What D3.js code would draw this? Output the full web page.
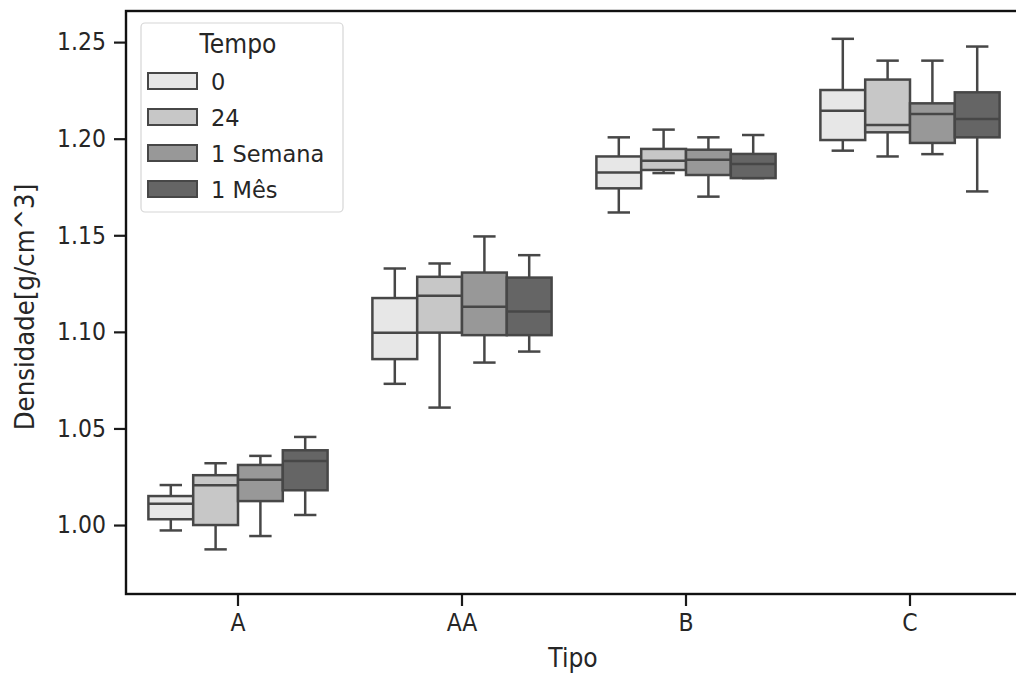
<!DOCTYPE html>
<html>
<head>
<meta charset="utf-8">
<script src="https://cdn.jsdelivr.net/npm/d3@7"></script>
<style>
  html, body { margin: 0; padding: 0; background: #fff; }
  svg { display: block; font-family: "DejaVu Sans", sans-serif; }
</style>
</head>
<body>
<svg id="chart" width="1016" height="675"></svg>
<script>
// ---- data ----
const categories = ["A", "AA", "B", "C"];
const hues = ["0", "24", "1 Semana", "1 Mês"];
const hueColors = ["#e7e7e7", "#c7c7c7", "#989898", "#656565"];
const yTicks = [1.00, 1.05, 1.10, 1.15, 1.20, 1.25];
// [whiskerLow, q1, median, q3, whiskerHigh] per hue within each category
const statsA  = [[0.9972, 1.0030, 1.0110, 1.0150, 1.0207],
                 [0.9874, 1.0000, 1.0206, 1.0258, 1.0320],
                 [0.9943, 1.0124, 1.0235, 1.0311, 1.0358],
                 [1.0052, 1.0180, 1.0332, 1.0387, 1.0456]];
const statsAA = [[1.0731, 1.0859, 1.0996, 1.1175, 1.1328],
                 [1.0608, 1.0996, 1.1187, 1.1285, 1.1354],
                 [1.0841, 1.0983, 1.1130, 1.1307, 1.1494],
                 [1.0898, 1.0983, 1.1105, 1.1281, 1.1397]];
const statsB  = [[1.1618, 1.1743, 1.1825, 1.1908, 1.2007],
                 [1.1822, 1.1838, 1.1886, 1.1947, 1.2047],
                 [1.1700, 1.1812, 1.1891, 1.1943, 1.2007],
                 [1.1796, 1.1796, 1.1869, 1.1921, 1.2019]];
const statsC  = [[1.1938, 1.1993, 1.2145, 1.2252, 1.2517],
                 [1.1908, 1.2033, 1.2071, 1.2306, 1.2404],
                 [1.1920, 1.1978, 1.2128, 1.2183, 1.2404],
                 [1.1727, 1.2007, 1.2102, 1.2240, 1.2477]];
const allStats = [statsA, statsAA, statsB, statsC];

(function () {
// ---- layout ----
const svg = d3.select("#chart");
const pLeft = 126, pRight = 1022, pTop = 11, pBottom = 594;
const lineColor = "#474747";
const lw = 2.5;
const textColor = "#262626";
const stretch = 1.12;

const x = d3.scaleBand().domain(categories).range([pLeft, pRight]).padding(0);
const hueScale = d3.scaleBand().domain(hues).range([0, x.bandwidth() * 0.8]).padding(0);
const y = d3.scaleLinear().domain([0.9643, 1.2661]).range([pBottom, pTop]);

// boxes
const g = svg.append("g");
categories.forEach((cat, ci) => {
  const groupStart = x(cat) + x.bandwidth() * 0.1;
  hues.forEach((h, hi) => {
    const s = allStats[ci][hi];
    const bw = hueScale.bandwidth();
    const x0 = groupStart + hueScale(h);
    const cx = x0 + bw / 2;
    const cap = bw / 2;
    const bg = g.append("g");
    bg.append("line").attr("x1", cx).attr("x2", cx).attr("y1", y(s[0])).attr("y2", y(s[1]))
      .attr("stroke", lineColor).attr("stroke-width", lw);
    bg.append("line").attr("x1", cx).attr("x2", cx).attr("y1", y(s[3])).attr("y2", y(s[4]))
      .attr("stroke", lineColor).attr("stroke-width", lw);
    bg.append("line").attr("x1", cx - cap / 2).attr("x2", cx + cap / 2).attr("y1", y(s[0])).attr("y2", y(s[0]))
      .attr("stroke", lineColor).attr("stroke-width", lw);
    bg.append("line").attr("x1", cx - cap / 2).attr("x2", cx + cap / 2).attr("y1", y(s[4])).attr("y2", y(s[4]))
      .attr("stroke", lineColor).attr("stroke-width", lw);
    bg.append("rect").attr("x", x0).attr("width", bw)
      .attr("y", y(s[3])).attr("height", y(s[1]) - y(s[3]))
      .attr("fill", hueColors[hi]).attr("stroke", lineColor).attr("stroke-width", lw);
    bg.append("line").attr("x1", x0).attr("x2", x0 + bw).attr("y1", y(s[2])).attr("y2", y(s[2]))
      .attr("stroke", lineColor).attr("stroke-width", lw);
  });
});

// axes
const yAxis = d3.axisLeft(y).tickValues(yTicks).tickFormat(d3.format(".2f")).tickSize(12).tickPadding(8);
const ya = svg.append("g").attr("transform", `translate(${pLeft},0)`).call(yAxis);
ya.select(".domain").remove();
ya.selectAll("line").attr("stroke", "#1a1a1a").attr("stroke-width", 2.2);
ya.selectAll("text").attr("font-size", 22).attr("fill", textColor).attr("font-family", "DejaVu Sans")
  .attr("transform", `scale(1,${stretch})`);

const xAxis = d3.axisBottom(x).tickSize(12).tickPadding(5);
const xa = svg.append("g").attr("transform", `translate(0,${pBottom})`).call(xAxis);
xa.select(".domain").remove();
xa.selectAll("line").attr("stroke", "#1a1a1a").attr("stroke-width", 2.2);
xa.selectAll("text").attr("font-size", 22).attr("fill", textColor).attr("font-family", "DejaVu Sans")
  .attr("transform", `scale(1,${stretch})`);

// spines
svg.append("rect").attr("x", pLeft).attr("y", pTop).attr("width", pRight - pLeft).attr("height", pBottom - pTop)
  .attr("fill", "none").attr("stroke", "#111").attr("stroke-width", 2.4);

// axis labels
svg.append("text").attr("transform", `translate(573,667) scale(1,${stretch})`).attr("text-anchor", "middle")
  .attr("font-size", 23.5).attr("fill", textColor).text("Tipo");
svg.append("text").attr("transform", `translate(34,307) rotate(-90) scale(1,${stretch})`)
  .attr("text-anchor", "middle").attr("font-size", 24.5).attr("fill", textColor).text("Densidade[g/cm^3]");

// legend
const lg = svg.append("g");
lg.append("rect").attr("x", 141).attr("y", 23).attr("width", 202).attr("height", 189)
  .attr("rx", 4).attr("fill", "#fff").attr("fill-opacity", 0.85).attr("stroke", "#d6d6d6").attr("stroke-width", 1.2);
lg.append("text").attr("transform", `translate(238,53) scale(1,1.1)`).attr("text-anchor", "middle")
  .attr("font-size", 23.5).attr("fill", textColor).text("Tempo");
hues.forEach((h, i) => {
  const cy = 81 + i * 36;
  lg.append("rect").attr("x", 148).attr("y", cy - 8).attr("width", 49).attr("height", 16)
    .attr("fill", hueColors[i]).attr("stroke", lineColor).attr("stroke-width", 2);
  lg.append("text").attr("x", 211).attr("y", cy + 9).attr("font-size", 22.5)
    .attr("fill", textColor).text(h);
});
})();
</script>
</body>
</html>
